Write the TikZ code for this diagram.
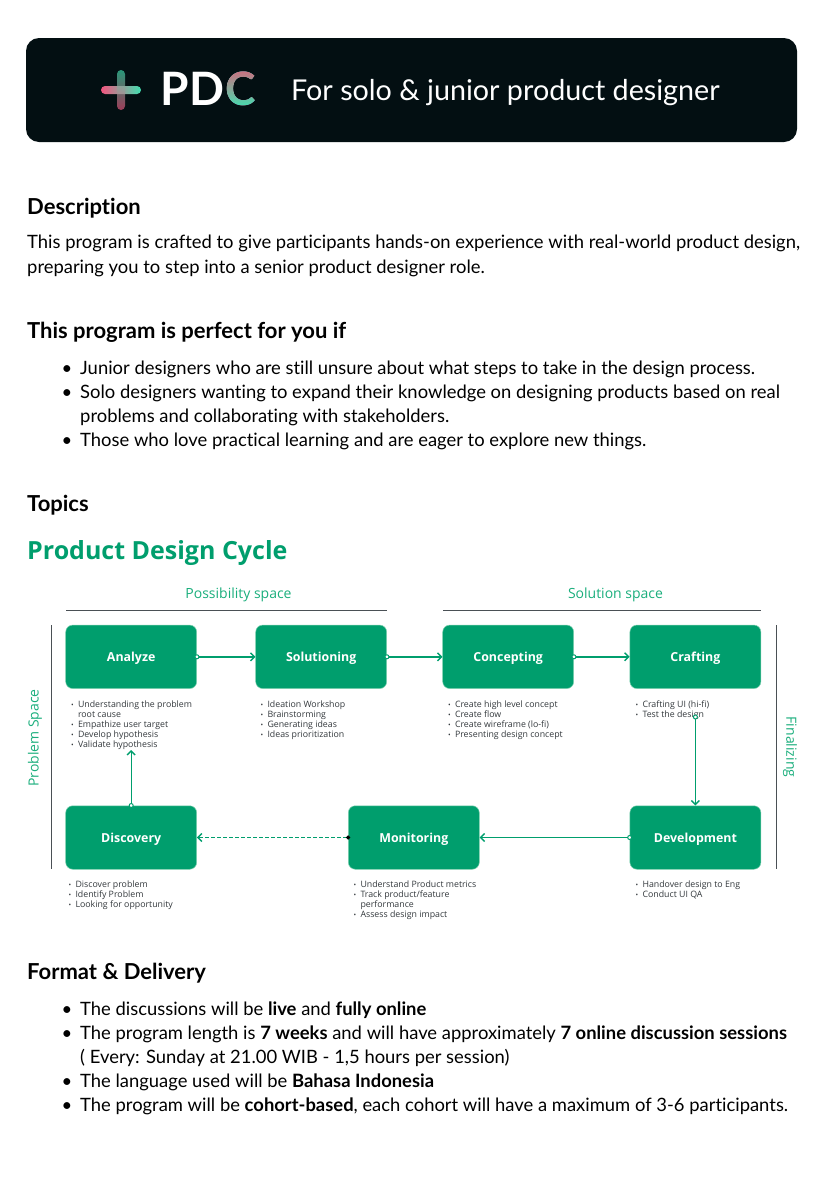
\documentclass[tikz,border=0pt]{standalone}
\usepackage{fontspec}
\setmainfont[Ligatures=NoCommon]{Lato}
\newfontfamily\diagramfont{Open Sans}
\usetikzlibrary{arrows.meta}
\definecolor{headerdark}{HTML}{030F12}
\definecolor{cyclegreen}{HTML}{009E6D}
\definecolor{labelgreen}{HTML}{1AAE7C}
\definecolor{boxedge}{HTML}{7FD0B0}
\definecolor{rulegray}{HTML}{4A5055}
\definecolor{listgray}{HTML}{33383C}
\definecolor{logopink}{HTML}{F2557F}
\definecolor{logomint}{HTML}{3FE0B0}
\definecolor{logorose}{HTML}{CC6F80}
\newcommand{\itm}[1]{\makebox[6.8pt][l]{\fontsize{7}{7}\selectfont\textbullet}#1}
\newcommand{\cnt}[1]{\hspace*{6.8pt}#1}
\tikzset{
    headtext/.style={anchor=base west,inner sep=0pt,font=\fontsize{22}{26}\selectfont\bfseries},
    bodytext/.style={anchor=base west,inner sep=0pt,font=\fontsize{18.4}{24}\selectfont},
    logotext/.style={anchor=base west,inner sep=0pt,text=white,font=\fontsize{46}{46}\selectfont\bfseries},
    cyclebox/.style={draw=boxedge,line width=0.5pt,fill=cyclegreen,rounded corners=7pt,minimum width=131pt,minimum height=63.5pt,inner sep=0pt,text height=9pt,text depth=0pt,text=white,font=\diagramfont\fontsize{12.4}{14}\selectfont\bfseries},
    listtext/.style={anchor=north west,inner sep=0pt,align=left,text=listgray,font=\diagramfont\fontsize{8.8}{10}\selectfont},
    spacetext/.style={inner sep=0pt,text=labelgreen,font=\diagramfont\fontsize{14}{16}\selectfont},
    spacerule/.style={draw=rulegray,line width=1pt},
    flow/.style={draw=cyclegreen,line width=1.4pt,-{Straight Barb[length=4pt,width=8pt]}},
    flowstart/.style={flow,shorten <=-2.5pt,{Circle[open,fill=white,length=5pt,width=5pt,line width=1pt]}-{Straight Barb[length=4pt,width=8pt]}},
}
\begin{document}
\begin{tikzpicture}[x=1pt,y=-1pt]
    \useasboundingbox (0,0) rectangle (827,1200);
    % header
    \fill[headerdark,rounded corners=13pt] (26,38) rectangle (797,142);
    \shade[left color=logopink,right color=logomint,rounded corners=4pt] (101,86) rectangle (141,94);
    \shade[top color=logomint,bottom color=logopink,rounded corners=4pt,opacity=0.65] (117,70) rectangle (125,110);
    \node[logotext] (brandpd) at (160.5,105) {PD};
    \node[logotext] (brandc) at (225,105) {C};
    \begin{scope}[blend mode=darken]
        \shade[top color=logorose,bottom color=logomint] (224.5,70) rectangle (262,108);
    \end{scope}
    \node[anchor=base west,inner sep=0pt,text=white,font=\fontsize{28.7}{34}\selectfont] (tagline) at (291,100) {For solo \& junior product designer};
    % description
    \node[headtext] (description) at (27,214) {Description};
    \node[bodytext] (desc1) at (27,248) {This program is crafted to give participants hands-on experience with real-world product design,};
    \node[bodytext] (desc2) at (27,273) {preparing you to step into a senior product designer role.};
    \node[headtext] (perfect) at (27,338) {This program is perfect for you if};
    \node[bodytext] at (61.5,374) {\textbullet};
    \node[bodytext] (perfect1) at (80,374) {Junior designers who are still unsure about what steps to take in the design process.};
    \node[bodytext] at (61.5,398) {\textbullet};
    \node[bodytext] (perfect2) at (80,398) {Solo designers wanting to expand their knowledge on designing products based on real};
    \node[bodytext] (perfect2b) at (80,422) {problems and collaborating with stakeholders.};
    \node[bodytext] at (61.5,446) {\textbullet};
    \node[bodytext] (perfect3) at (80,446) {Those who love practical learning and are eager to explore new things.};
    \node[headtext] (topics) at (27,511) {Topics};
    \node[anchor=base west,inner sep=0pt,text=cyclegreen,font=\diagramfont\fontsize{25}{30}\selectfont\bfseries] (cycletitle) at (27,559) {Product Design Cycle};
    % space labels
    \node[spacetext] (possibility) at (238.5,595) {Possibility space};
    \node[spacetext] (solution) at (615.5,595) {Solution space};
    \node[spacetext,rotate=90] (problem) at (35,738) {Problem Space};
    \node[spacetext,rotate=-90] (finalizing) at (790,747) {Finalizing};
    \draw[spacerule] (66,610) -- (386.5,610);
    \draw[spacerule] (443,610) -- (761,610);
    \draw[spacerule] (51,625) -- (51,869);
    \draw[spacerule] (776,625) -- (776,869);
    % boxes
    \node[cyclebox] (analyze) at (131.2,656.8) {Analyze};
    \node[cyclebox] (solutioning) at (321.2,656.8) {Solutioning};
    \node[cyclebox] (concepting) at (508.2,656.8) {Concepting};
    \node[cyclebox] (crafting) at (695.4,656.8) {Crafting};
    \node[cyclebox] (discovery) at (131.2,837.5) {Discovery};
    \node[cyclebox] (monitoring) at (413.8,837.5) {Monitoring};
    \node[cyclebox] (development) at (695.4,837.5) {Development};
    % lists
    \node[listtext] (analyzelist) at (71,700.5) {\itm{Understanding the problem}\\\cnt{root cause}\\\itm{Empathize user target}\\\itm{Develop hypothesis}\\\itm{Validate hypothesis}};
    \node[listtext] (solutioninglist) at (260.5,700.5) {\itm{Ideation Workshop}\\\itm{Brainstorming}\\\itm{Generating ideas}\\\itm{Ideas prioritization}};
    \node[listtext] (conceptinglist) at (448,700.5) {\itm{Create high level concept}\\\itm{Create flow}\\\itm{Create wireframe (lo-fi)}\\\itm{Presenting design concept}};
    \node[listtext] (craftinglist) at (635.5,700.5) {\itm{Crafting UI (hi-fi)}\\\itm{Test the design}};
    \node[listtext] (discoverylist) at (68.5,881) {\itm{Discover problem}\\\itm{Identify Problem}\\\itm{Looking for opportunity}};
    \node[listtext] (monitoringlist) at (353.5,881) {\itm{Understand Product metrics}\\\itm{Track product/feature}\\\cnt{performance}\\\itm{Assess design impact}};
    \node[listtext] (developmentlist) at (635.5,881) {\itm{Handover design to Eng}\\\itm{Conduct UI QA}};
    % connectors
    \coordinate (craftingout) at (695.4,717);
    \coordinate (discoveryin) at (131.2,750);
    \draw[flowstart] (analyze) -- (solutioning);
    \draw[flowstart] (solutioning) -- (concepting);
    \draw[flowstart] (concepting) -- (crafting);
    \draw[flowstart] (craftingout) -- (development);
    \draw[flowstart] (development) -- (monitoring);
    \draw[flow,dash pattern=on 3.5pt off 2.5pt,shorten <=-2pt,{Circle[length=4pt,width=4pt,black]}-{Straight Barb[length=4pt,width=8pt]}] (monitoring) -- (discovery);
    \draw[flowstart] (discovery) -- (discoveryin);
    % format
    \node[headtext] (format) at (27,979) {Format \& Delivery};
    \node[bodytext] at (61.5,1015) {\textbullet};
    \node[bodytext] (format1) at (80,1015) {The discussions will be \textbf{live} and \textbf{fully online}};
    \node[bodytext] at (61.5,1039) {\textbullet};
    \node[bodytext] (format2) at (80,1039) {The program length is \textbf{7 weeks} and will have approximately \textbf{7 online discussion sessions}};
    \node[bodytext] (format2b) at (80,1063) {( Every: Sunday at 21.00 WIB - 1,5 hours per session)};
    \node[bodytext] at (61.5,1087) {\textbullet};
    \node[bodytext] (format3) at (80,1087) {The language used will be \textbf{Bahasa Indonesia}};
    \node[bodytext] at (61.5,1111) {\textbullet};
    \node[bodytext] (format4) at (80,1111) {The program will be \textbf{cohort-based}, each cohort will have a maximum of 3-6 participants.};
\end{tikzpicture}
\end{document}
